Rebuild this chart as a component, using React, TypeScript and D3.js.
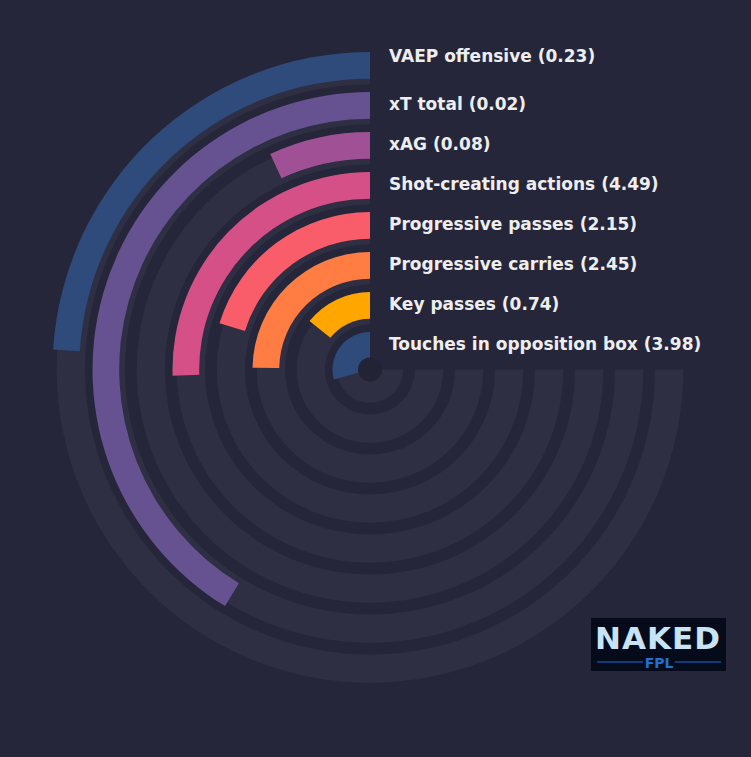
import React from "react";
import * as d3 from "d3";

// metrics from the outer ring to the inner ring
const metrics = [
    "VAEP offensive",
    "xT total",
    "xAG",
    "Shot-creating actions",
    "Progressive passes",
    "Progressive carries",
    "Key passes",
    "Touches in opposition box",
];
const rawValues = [0.23, 0.02, 0.08, 4.49, 2.15, 2.45, 0.74, 3.98];
const percentiles = [32, 55, 9.2, 34, 27, 33, 19, 39];
const colors = ["#2f4b7c", "#665191", "#a05195", "#d45087", "#f95d6a", "#ff7c43", "#ffa600", "#2f4b7c"];

const W = 751;
const H = 757;
const cx = 370;
const cy = 369.5;
const trackWidth = 28.3;
const barWidth = 26.7;
const barShift = 4.2;

export default function App() {
    const angle = d3.scaleLinear().domain([0, 100]).range([0, -1.5 * Math.PI]);
    const ring = d3.scaleLinear().domain([0, metrics.length - 1]).range([313.3, 33.3]);
    const arc = d3.arc<any>();

    return (
        <svg width={W} height={H} style={{position: "fixed", left: 0, top: 0}}>
            <rect width={W} height={H} fill="#25263a"/>
            <g transform={`translate(${cx},${cy})`}>
                {metrics.map((m, i) => (
                    <path
                        key={"t" + m}
                        fill="#2e2f43"
                        d={arc({
                            innerRadius: ring(i) - trackWidth,
                            outerRadius: ring(i),
                            startAngle: angle(100),
                            endAngle: angle(0),
                        }) as string}
                    />
                ))}
                {metrics.map((m, i) => (
                    <path
                        key={"b" + m}
                        fill={colors[i]}
                        d={arc({
                            innerRadius: ring(i) + barShift - barWidth,
                            outerRadius: ring(i) + barShift,
                            startAngle: angle(percentiles[i]),
                            endAngle: angle(0),
                        }) as string}
                    />
                ))}
                <circle r={12} fill="#222335"/>
            </g>
            {metrics.map((m, i) => {
                const mid = ring(i) + barShift - barWidth / 2;
                const y = cy - mid - (i === 0 ? 9 : 1);
                return (
                    <text
                        key={"l" + m}
                        x={389}
                        y={y}
                        dy="0.35em"
                        fill="#eeeeee"
                        fontFamily="DejaVu Sans"
                        fontWeight="bold"
                        fontSize={17}
                    >
                        {`${m} (${rawValues[i].toFixed(2)})`}
                    </text>
                );
            })}
            <g transform="translate(591,618)">
                <rect width={135} height={53} fill="#060b1c"/>
                <text x={67} y={31} textAnchor="middle" fill="#c9e3f4" fontFamily="DejaVu Sans"
                      fontWeight="bold" fontSize={31} letterSpacing={1}>NAKED</text>
                <line x1={6} x2={52} y1={44} y2={44} stroke="#1f6fd6" strokeWidth={1}/>
                <line x1={84} x2={130} y1={44} y2={44} stroke="#1f6fd6" strokeWidth={1}/>
                <text x={68} y={50} textAnchor="middle" fill="#1f6fd6" fontFamily="DejaVu Sans"
                      fontWeight="bold" fontSize={14}>FPL</text>
            </g>
        </svg>
    );
}
